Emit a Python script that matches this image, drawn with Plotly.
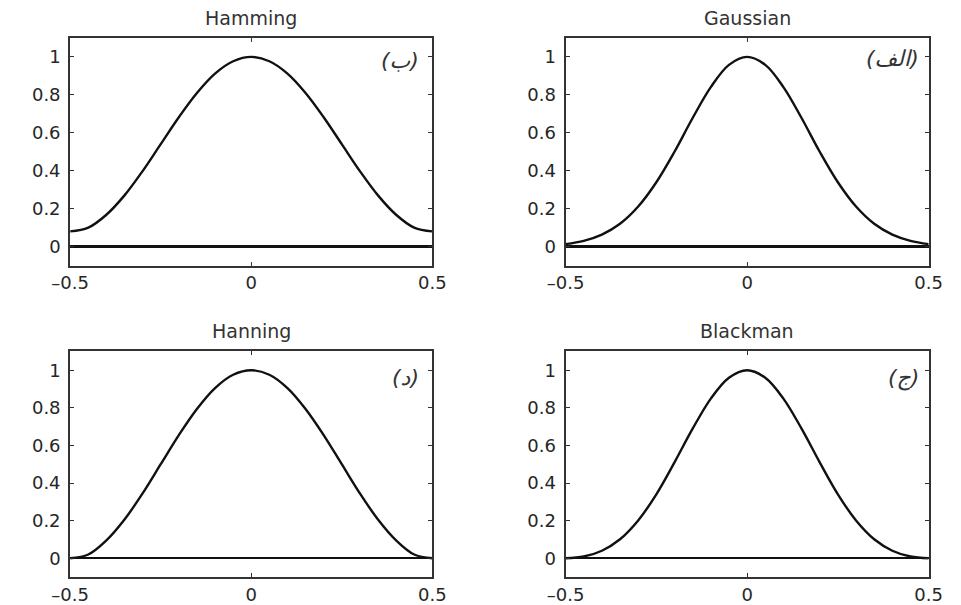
import plotly.graph_objects as go

x_vals = [-0.5, -0.45, -0.4, -0.35, -0.3, -0.25, -0.2, -0.15, -0.1, -0.05, 0.0,
          0.05, 0.1, 0.15, 0.2, 0.25, 0.3, 0.35, 0.4, 0.45, 0.5]

hamming_half = [1.0, 0.977, 0.912, 0.810, 0.682, 0.54, 0.398, 0.270, 0.168, 0.100, 0.08]
gaussian_half = [1.0, 0.958, 0.841, 0.678, 0.50, 0.339, 0.211, 0.120, 0.063, 0.030, 0.013]
hanning_half = [1.0, 0.976, 0.905, 0.794, 0.655, 0.50, 0.345, 0.206, 0.095, 0.020, 0.0]
blackman_half = [1.0, 0.960, 0.849, 0.689, 0.510, 0.340, 0.201, 0.101, 0.040, 0.009, 0.0]

def sym(h):
    return list(reversed(h[1:])) + h

titles = ["Hamming", "Gaussian", "Hanning", "Blackman"]
labels = ["(ب)", "(الف)", "(د)", "(ج)"]
series = [sym(hamming_half), sym(gaussian_half), sym(hanning_half), sym(blackman_half)]

x_ticks = [-0.5, 0, 0.5]
x_ticktext = ["\u20130.5", "0", "0.5"]
y_ticks = [0, 0.2, 0.4, 0.6, 0.8, 1]
y_ticktext = ["0", "0.2", "0.4", "0.6", "0.8", "1"]

W, H = 961, 605
boxes = [  # left, right, top, bottom in px
    (53, 428, 38, 266),
    (566, 942, 38, 266),
    (53, 428, 352, 578),
    (566, 942, 352, 578),
]
zero_widths = [2.5, 2.5, 1.6, 1.6]
label_pos = [(0.47, 0.98), (0.48, 0.99), (0.47, 0.96), (0.48, 0.96)]

fig = go.Figure()
FONT = "DejaVu Sans"
for i in range(4):
    xa = "x" if i == 0 else f"x{i+1}"
    ya = "y" if i == 0 else f"y{i+1}"
    fig.add_trace(go.Scatter(x=x_vals, y=series[i], mode="lines",
                             line=dict(color="#111111", width=2.4, shape="spline", smoothing=1.0),
                             xaxis=xa, yaxis=ya, showlegend=False, hoverinfo="skip"))
    l, r, t, b = boxes[i]
    xd = [l / W, r / W]
    yd = [1 - b / H, 1 - t / H]
    suffix = "" if i == 0 else str(i + 1)
    common = dict(showgrid=False, showline=True, linecolor="#333333", linewidth=2,
                  mirror="ticks", ticks="inside", ticklen=4, tickwidth=1, tickcolor="#333333",
                  tickfont=dict(family=FONT, size=18, color="#262626"))
    fig.layout["xaxis" + suffix] = dict(domain=xd, range=[-0.5, 0.5], tickvals=x_ticks,
                                        ticktext=x_ticktext, zeroline=False,
                                        anchor=ya, **common)
    fig.layout["yaxis" + suffix] = dict(domain=yd, range=[-0.1, 1.1], tickvals=y_ticks,
                                        ticktext=y_ticktext, zeroline=True,
                                        zerolinecolor="#111111", zerolinewidth=zero_widths[i],
                                        ticklabelstandoff=4,
                                        anchor=xa, **common)
    fig.add_annotation(text=titles[i], x=(xd[0] + xd[1]) / 2, y=yd[1], xref="paper", yref="paper",
                       yshift=20, showarrow=False, xanchor="center", yanchor="middle",
                       font=dict(family=FONT, size=19, color="#333333"))
    lx, ly = label_pos[i]
    fig.add_annotation(text="<i>" + labels[i] + "</i>", x=lx, y=ly, xref=xa, yref=ya,
                       xanchor="right", yanchor="middle", showarrow=False,
                       font=dict(family=FONT, size=22, color="#333333"))

fig.update_layout(width=W, height=H, margin=dict(l=0, r=0, t=0, b=0),
                  paper_bgcolor="white", plot_bgcolor="white")
fig.write_html("out.html")
